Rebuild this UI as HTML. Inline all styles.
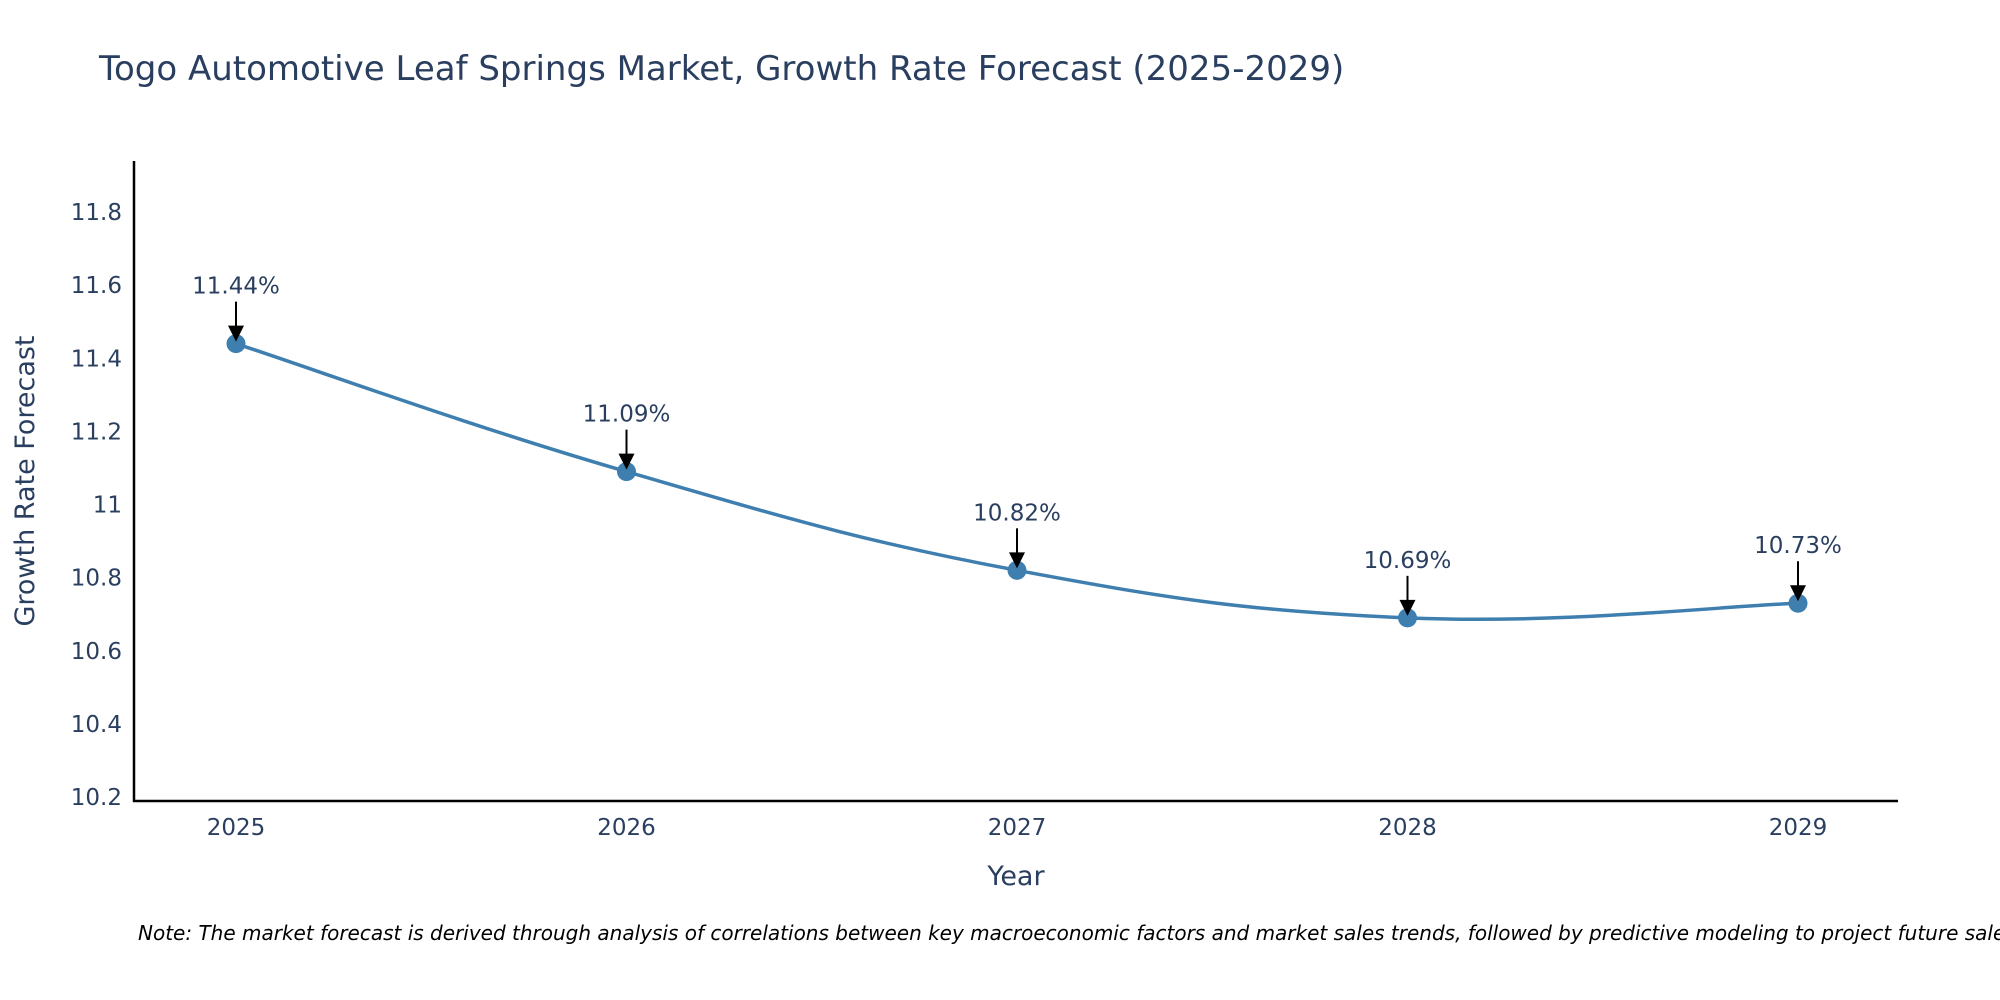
<!DOCTYPE html>
<html><head><meta charset="utf-8"><style>
html,body{margin:0;padding:0;background:#fff;overflow:hidden;}
svg{display:block;font-family:"DejaVu Sans","Liberation Sans",sans-serif;}
</style></head><body>
<svg id="chart" width="2000" height="1000" viewBox="0 0 2000 1000">
<text x="99" y="80" font-size="34" fill="#2a3f5f">Togo Automotive Leaf Springs Market, Growth Rate Forecast (2025-2029)</text>
<g id="yticks"></g>
<g id="xticks"></g>
<line x1="134" y1="161" x2="134" y2="802" stroke="#000" stroke-width="2.5"/>
<line x1="133" y1="801" x2="1898" y2="801" stroke="#000" stroke-width="2.5"/>
<path id="line" fill="none" stroke="#3f7fb0" stroke-width="3.5"/>
<g id="points"></g>
<g id="annots"></g>
<text x="1016" y="885" font-size="27" fill="#2a3f5f" text-anchor="middle">Year</text>
<text transform="translate(34,481) rotate(-90)" font-size="27" fill="#2a3f5f" text-anchor="middle">Growth Rate Forecast</text>
<text x="138" y="940" font-size="20" font-style="italic" fill="#000">Note: The market forecast is derived through analysis of correlations between key macroeconomic factors and market sales trends, followed by predictive modeling to project future sales.</text>
</svg>
<script>
const years=[2025,2026,2027,2028,2029];
const values=[11.44,11.09,10.82,10.69,10.73];
const labels=["11.44%","11.09%","10.82%","10.69%","10.73%"];
const yTicks=[10.2,10.4,10.6,10.8,11,11.2,11.4,11.6,11.8];
const NS="http://www.w3.org/2000/svg";
function xs(v){return 236+(v-2025)*390.5;}
function ys(v){return 797-(v-10.2)*365.6;}
function mk(t,a,p){const e=document.createElementNS(NS,t);for(const k in a)e.setAttribute(k,a[k]);p.appendChild(e);return e;}
const yg=document.getElementById('yticks');
yTicks.forEach(v=>{const t=mk('text',{x:122,y:ys(v)+8,'font-size':23,fill:'#2a3f5f','text-anchor':'end'},yg);t.textContent=String(v);

});
const xg=document.getElementById('xticks');
years.forEach(v=>{const t=mk('text',{x:xs(v),y:835,'font-size':23,fill:'#2a3f5f','text-anchor':'middle'},xg);t.textContent=String(v);

});
const P=years.map((y,i)=>[xs(y),ys(values[i])]);
let d='M'+P[0][0]+','+P[0][1];
const s=0.2;
for(let i=0;i<P.length-1;i++){const p0=P[Math.max(i-1,0)],p1=P[i],p2=P[i+1],p3=P[Math.min(i+2,P.length-1)];
const c1=[p1[0]+(p2[0]-p0[0])*s,p1[1]+(p2[1]-p0[1])*s],c2=[p2[0]-(p3[0]-p1[0])*s,p2[1]-(p3[1]-p1[1])*s];
d+=' C'+c1+' '+c2+' '+p2;}
document.getElementById('line').setAttribute('d',d);
const pg=document.getElementById('points'),ag=document.getElementById('annots');
P.forEach((p,i)=>{const c=mk('circle',{cx:p[0],cy:p[1],r:9.5,fill:'#3f7fb0'},pg);


const l=mk('line',{x1:p[0],y1:p[1]-42,x2:p[0],y2:p[1]-14,stroke:'#000','stroke-width':2},ag);


const h=mk('polygon',{points:(p[0]-8)+','+(p[1]-18)+' '+(p[0]+8)+','+(p[1]-18)+' '+p[0]+','+(p[1]-2),fill:'#000'},ag);


const t=mk('text',{x:p[0],y:p[1]-50,'font-size':23,fill:'#2a3f5f','text-anchor':'middle'},ag);t.textContent=labels[i];

});
</script>
</body></html>
